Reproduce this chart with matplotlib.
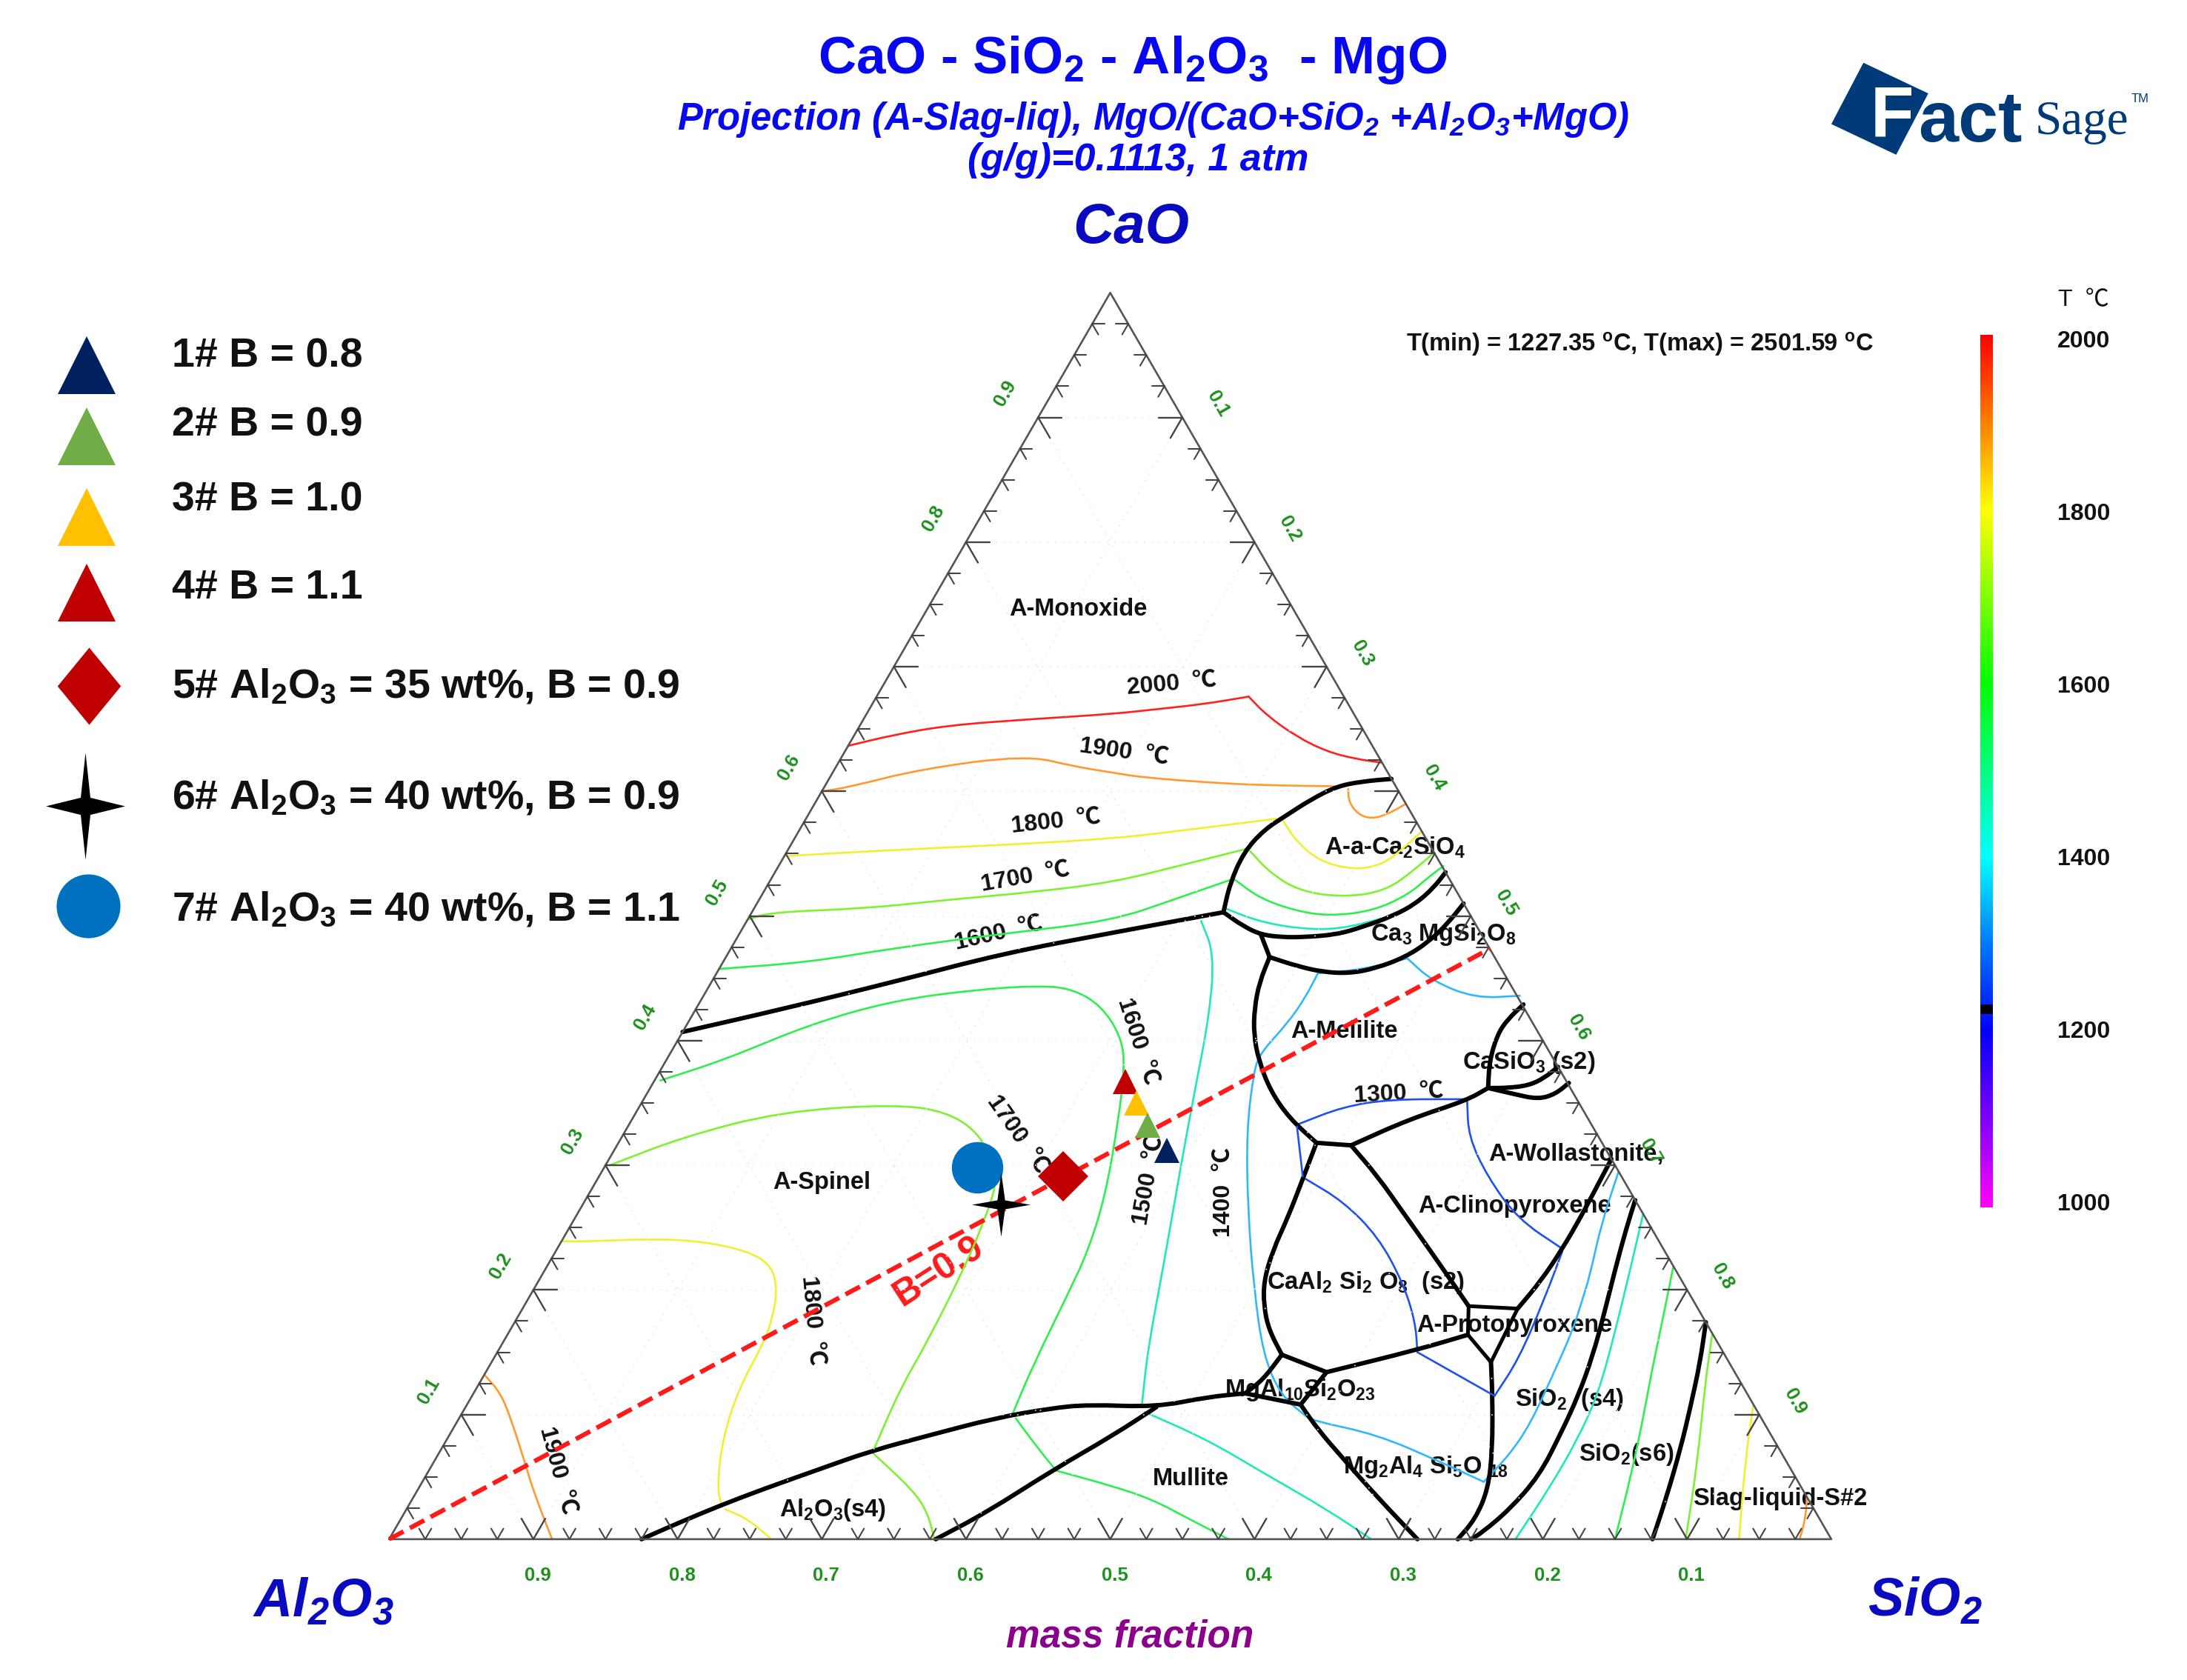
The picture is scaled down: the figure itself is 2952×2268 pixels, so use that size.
import numpy as np
import matplotlib
matplotlib.use('Agg')
import matplotlib.pyplot as plt
from matplotlib.colors import LinearSegmentedColormap
from matplotlib.path import Path
from matplotlib.patches import Polygon, PathPatch

# every curve is a list of (SiO2, CaO) mass fractions
bnd_monoxide = [(0.000,.407),(.059,.425),(.126,.447),(.191,.470),(.260,.487),(.327,.503)]
bnd_arc = [(.327,.503),(.320,.526),(.317,.551),(.322,.569),(.332,.581),(.342,.593),(.355,.604),(.371,.608),(.390,.610)]
bnd_ca2sio4 = [(.327,.503),(.346,.492),(.362,.485),(.378,.483),(.392,.483),(.414,.485),(.429,.491),(.446,.500),(.457,.510),(.463,.523),(.465,.535)]
bnd_short = [(.362,.485),(.377,.467)]
bnd_ca3 = [(.377,.467),(.399,.460),(.420,.455),(.439,.454),(.455,.458),(.471,.467),(.481,.479),(.487,.494),(.490,.510)]
bnd_melilite = [(.377,.467),(.380,.447),(.387,.426),(.397,.405),(.411,.384),(.431,.360),(.455,.338),(.484,.318)]
bnd_mel_low = [(.484,.318),(.509,.316)]
bnd_mel_right = [(.509,.316),(.539,.337),(.571,.352),(.581,.362)]
bnd_casio3_a = [(.581,.362),(.571,.384),(.566,.405),(.567,.417),(.572,.429)]
bnd_casio3_b = [(.581,.362),(.594,.362),(.608,.364),(.616,.370),(.621,.379)]
bnd_casio3_c = [(.581,.362),(.602,.357),(.620,.353),(.630,.357),(.635,.366)]
bnd_anorth_left = [(.484,.318),(.489,.289),(.494,.259),(.497,.231),(.503,.207),(.513,.187),(.526,.168),(.545,.148)]
bnd_anorth_low = [(.545,.148),(.583,.134)]
bnd_anorth_right = [(.583,.134),(.637,.152),(.666,.164)]
bnd_sapph = [(.545,.148),(.542,.128),(.535,.117)]
bnd_corundum = [(.175,0),(.194,.013),(.216,.027),(.239,.040),(.268,.055),(.299,.071),(.332,.083),(.371,.097),(.406,.105),(.431,.108),(.479,.106),(.510,.114),(.535,.117)]
bnd_corundum_end = [(.535,.117),(.578,.108)]
bnd_mullite = [(.379,0),(.403,.021),(.433,.056),(.460,.083),(.479,.106)]
bnd_j7 = [(.578,.108),(.583,.134)]
bnd_cordierite = [(.578,.108),(.600,.088),(.630,.064),(.668,.034),(.713,0)]
bnd_clino_left = [(.509,.316),(.540,.291),(.571,.263),(.609,.229),(.655,.187)]
bnd_clino_right = [(.690,.185),(.695,.207),(.697,.233),(.697,.259),(.696,.283),(.695,.305)]
bnd_cord_right = [(.693,.142),(.707,.116),(.729,.072),(.742,.040),(.745,.016),(.741,0)]
bnd_sio2_s4 = [(.728,.272),(.733,.250),(.742,.216),(.752,.181),(.761,.147),(.767,.115),(.770,.085),(.772,.051),(.765,.024),(.755,.005),(.750,0)]
bnd_sio2_s6 = [(.826,.174),(.838,.142),(.849,.107),(.859,.073),(.869,.033),(.876,0)]
bnd_proto = [(.655,.187),(.666,.164),(.693,.142),(.690,.185),(.655,.187)]

boundaries = [bnd_monoxide, bnd_arc, bnd_ca2sio4, bnd_short, bnd_ca3, bnd_melilite, bnd_mel_low, bnd_mel_right,
              bnd_casio3_a, bnd_casio3_b, bnd_casio3_c, bnd_anorth_left, bnd_anorth_low, bnd_anorth_right, bnd_sapph,
              bnd_corundum, bnd_corundum_end, bnd_mullite, bnd_j7, bnd_cordierite, bnd_clino_left,
              bnd_clino_right, bnd_cord_right, bnd_sio2_s4, bnd_sio2_s6]

t2000 = [[(0,.6365),(.026,.645),(.061,.653),(.117,.658),(.170,.662),(.200,.666),(.230,.670),(.258,.676)],
         [(.258,.676),(.278,.661),(.307,.644),(.334,.632),(.357,.626),(.377,.623)]]
t1900 = [[(0,.600),(.016,.603),(.060,.618),(.127,.629),(.165,.620),(.194,.615),(.218,.611),(.266,.607),(.301,.605),(.355,.604)],
         [(.364,.602),(.370,.591),(.382,.581),(.393,.578),(.402,.582),(.410,.590)],
         [(0,.132),(.019,.117),(.039,.093),(.063,.062),(.082,.037),(.113,0)],
         [(.967,.032),(.974,.016),(.978,0)]]
t1800 = [[(0,.548),(.073,.553),(.148,.557),(.220,.562),(.262,.568),(.326,.578)],
         [(.332,.576),(.349,.560),(.373,.544),(.400,.537),(.418,.541),(.426,.554),(.432,.568)],
         [(0,.239),(.021,.239),(.063,.241),(.097,.239),(.134,.231),(.156,.219),(.169,.200),(.177,.178),(.181,.157),(.182,.121),(.191,.080),(.207,.041),(.217,.027)],
         [(.221,.024),(.241,.016),(.265,0)],
         [(.892,.108),(.908,.065),(.936,0)]]
t1700 = [[(0,.497),(.013,.503),(.077,.506),(.131,.513),(.186,.519),(.238,.527),(.277,.540),(.318,.554)],
         [(.321,.552),(.343,.535),(.371,.520),(.404,.515),(.431,.520),(.443,.538),(.449,.551)],
         [(.003,.300),(.043,.323),(.100,.343),(.175,.349),(.216,.343),(.250,.323),(.271,.295),(.279,.284),(.285,.255),(.290,.218),(.294,.159),(.294,.121),(.300,.073)],
         [(.301,.069),(.344,.039),(.363,.021),(.378,0)],
         [(.835,.165),(.850,.125),(.877,.060),(.899,0)]]
t1600 = [[(0,.4575),(.060,.463),(.112,.474),(.184,.486),(.253,.496),(.289,.514),(.319,.529)],
         [(.322,.529),(.347,.514),(.377,.504),(.402,.500),(.430,.504),(.448,.517),(.455,.531),(.461,.540)],
         [(.004,.368),(.041,.385),(.085,.413),(.133,.432),(.187,.441),(.227,.444),(.252,.442),(.280,.428),(.307,.402),(.321,.378),(.338,.335),(.359,.275),(.369,.231),(.372,.200),(.377,.137),(.382,.101)],
         [(.386,.097),(.411,.075),(.435,.055)],
         [(.435,.055),(.479,.043),(.513,.032),(.547,.016),(.582,0)],
         [(.781,.219),(.795,.176),(.809,.132),(.821,.097),(.835,.053),(.850,0)]]
t1500 = [[(.327,.506),(.354,.496),(.384,.490),(.414,.489),(.445,.500)],
         [(.315,.496),(.337,.470),(.358,.422),(.379,.359),(.398,.303),(.426,.223),(.450,.152),(.468,.108)],
         [(.473,.102),(.527,.080),(.582,.052),(.638,.024),(.681,0)],
         [(.739,.261),(.751,.221),(.767,.166),(.780,.117),(.784,.080),(.784,.041),(.781,0)]]
t1400 = [[(.417,.454),(.418,.434),(.416,.414),(.409,.390),(.412,.375),(.431,.327),(.464,.263),(.498,.203),(.532,.148),(.560,.116),(.584,.100),(.593,.095),(.643,.084),(.698,.062),(.736,.046)],
         [(.736,.046),(.743,.068),(.745,.093),(.741,.132),(.737,.167),(.732,.189),(.727,.211),(.714,.253),(.705,.295)],
         [(.417,.454),(.446,.457),(.473,.466)],
         [(.473,.466),(.499,.448),(.536,.434),(.566,.436)]]
t1300 = [[(.464,.333),(.488,.347),(.518,.353),(.571,.353)],
         [(.464,.331),(.488,.291)],
         [(.491,.289),(.526,.271),(.564,.243),(.599,.207),(.624,.175),(.638,.150)],
         [(.638,.150),(.709,.115)],
         [(.709,.115),(.711,.144),(.705,.191),(.698,.231)],
         [(.572,.351),(.587,.323),(.616,.291),(.654,.257),(.697,.233)]]
contour_cols = ['#ff2020', '#ff9a30', '#f0f030', '#80f030', '#30ee50', '#20e8b8', '#30b8f8', '#2050f0']
contour_sets = [t2000, t1900, t1800, t1700, t1600, t1500, t1400, t1300]

cbar_temps = [1000, 1200, 1300, 1400, 1500, 1600, 1700, 1800, 1900, 2000]
cbar_cols = ['#ff00ff', '#0000ff', '#0078ff', '#00ffff', '#00ff80', '#00ff00', '#80ff00', '#ffff00', '#ff8000', '#ff0000']
cbar_ticks = [2000, 1800, 1600, 1400, 1200, 1000]
t_min = 1227.35

# samples on the diagram
tri_sio2 = [.327, .343, .360, .383]
tri_cao = [.367, .350, .332, .312]
tri_cols = ['#c00000', '#ffc000', '#70ad47', '#002060']
dia_sio2, dia_cao = .322, .291
star_sio2, star_cao = .290, .2685
circ_sio2, circ_cao = .259, .298
basicity = 0.9

legend_text = ['1# B = 0.8', '2# B = 0.9', '3# B = 1.0', '4# B = 1.1',
               '5# Al$_2$O$_3$ = 35 wt%, B = 0.9', '6# Al$_2$O$_3$ = 40 wt%, B = 0.9',
               '7# Al$_2$O$_3$ = 40 wt%, B = 1.1']
major = [.1, .2, .3, .4, .5, .6, .7, .8, .9]
left_labels = [.1, .2, .3, .4, .5, .6, .8, .9]
minor = [.025, .05, .075, .125, .15, .175, .225, .25, .275, .325, .35, .375, .425, .45, .475,
         .525, .55, .575, .625, .65, .675, .725, .75, .775, .825, .85, .875, .925, .95, .975]

plt.rcParams['font.family'] = ['Liberation Sans', 'Noto Sans CJK SC', 'DejaVu Sans']
plt.rcParams['mathtext.default'] = 'regular'

fig = plt.figure(figsize=(29.52, 22.68), dpi=100)
cmap = LinearSegmentedColormap.from_list('t', [((t - 1000) / 1000, c) for t, c in zip(cbar_temps, cbar_cols)])

# page axes in reference picture units, for the titles and labels
page = fig.add_axes([0, 0, 1, 1])
page.set_xlim(0, 1568)
page.set_ylim(1205, 0)
page.axis('off')

ax = fig.add_axes([279 / 1568, 1 - 1104 / 1205, 1034 / 1568, 894 / 1205])
ax.set_xlim(0, 1)
ax.set_ylim(0, 1)
ax.axis('off')
ax.patch.set_alpha(0)


def put(x, y, t, **kw):
    kw.setdefault('ha', 'center')
    page.text(x, y + 2, t, va='center', **kw)


def draw(curve, **kw):
    s, c = np.array(curve, dtype=float).T
    ax.plot(s + c / 2, c, solid_capstyle='round', solid_joinstyle='round', clip_on=False, **kw)


def draw_smooth(curve, color, lw):
    # rounds the digitised corners with quadratic pieces between segment midpoints
    s, c = np.array(curve, dtype=float).T
    p = np.column_stack([s + c / 2, c])
    if len(p) < 3:
        draw(curve, color=color, lw=lw)
        return
    mid = (p[:-1] + p[1:]) / 2
    verts = [p[0], mid[0]]
    codes = [Path.MOVETO, Path.LINETO]
    for i in range(1, len(p) - 1):
        verts += [p[i], mid[i]]
        codes += [Path.CURVE3, Path.CURVE3]
    verts.append(p[-1])
    codes.append(Path.LINETO)
    ax.add_patch(PathPatch(Path(verts, codes), fill=False, edgecolor=color, lw=lw, capstyle='round', joinstyle='round', clip_on=False))


# dotted grid
for f in major:
    for a, b in [((0, f), (1 - f, f)), ((f, 0), (f, 1 - f)), ((0, 1 - f), (1 - f, 0))]:
        s, c = np.array([a, b]).T
        ax.plot(s + c / 2, c, color='#e8e8e8', lw=1.2, ls=(0, (1, 5)))

for col, curves in zip(contour_cols, contour_sets):
    for cv in curves:
        draw_smooth(cv, col, 1.9)
for cv in boundaries:
    draw_smooth(cv, 'black', 4.3)
draw(bnd_proto, color='black', lw=3.6)

# frame and ticks
draw([(0, 0), (1, 0), (0, 1), (0, 0)], color='#555555', lw=1.9)
for ticks, ln, w in [(major, .0165, 1.7), (minor, .0085, 1.5)]:
    for f in ticks:
        for (s, c), (d1, d2) in [((f, 0), ((-ln, ln), (0, ln))),
                                 ((0, f), ((ln, 0), (ln, -ln))),
                                 ((1 - f, f), ((-ln, 0), (0, -ln)))]:
            for ds, dc in (d1, d2):
                draw([(s, c), (s + ds, c + dc)], color='#444444', lw=w)

# green scale labels
green = dict(color='#1e901e', fontsize=18.5, fontweight='bold', ha='center', va='center')
for f in major:
    ax.annotate(f'{1 - f:.1f}', (f + 0, 0), xytext=(6, -49), textcoords='offset pixels', **green)
    ax.annotate(f'{1 - f:.1f}', (1 - f / 2, f), xytext=(48, 18), textcoords='offset pixels', rotation=-60, **green)
for f in left_labels:
    ax.annotate(f'{f:.1f}', (f / 2, f), xytext=(-44, 32), textcoords='offset pixels', rotation=60, **green)

# B = 0.9 line
al = np.array([1.0, 0.0])
cao_b = basicity / (1 + basicity) * (1 - al)
sio2_b = 1 - al - cao_b
ax.plot(sio2_b + cao_b / 2, cao_b, color='#ff1a1a', lw=4.4, dashes=(3.6, 1.6), clip_on=False)

tri_x = [s + c / 2 for s, c in zip(tri_sio2, tri_cao)]
for x, c, col in zip(tri_x, tri_cao, tri_cols):
    ax.plot(x, c, '^', color=col, ms=24, mew=0)
star = Path([(0, 1), (.12, .14), (.92, 0), (.12, -.14), (0, -1), (-.12, -.14), (-.92, 0), (-.12, .14), (0, 1)], closed=True)
ax.plot(circ_sio2 + circ_cao / 2, circ_cao, 'o', color='#0070c0', ms=50, mew=0)
ax.plot(star_sio2 + star_cao / 2, star_cao, marker=star, color='black', ms=62, mew=0)
ax.plot(dia_sio2 + dia_cao / 2, dia_cao, 'D', color='#c00000', ms=35, mew=0)

# legend
leg_y_mark = [262, 313, 371, 425, 492, 578, 650]
leg_y_text = [254, 303, 357, 420, 491, 571, 651]
for y, col in zip(leg_y_mark[:4], ['#002060', '#70ad47', '#ffc000', '#c00000']):
    page.plot(62, y, '^', color=col, ms=56, mew=0)
page.plot(64, leg_y_mark[4], marker=Path([(0, 1), (.82, 0), (0, -1), (-.82, 0), (0, 1)], closed=True),
          color='#c00000', ms=75, mew=0)
page.plot(61, leg_y_mark[5], marker=Path([(0, 1), (.09, .16), (.74, 0), (.09, -.16), (0, -1), (-.09, -.16), (-.74, 0), (-.09, .16), (0, 1)], closed=True),
          color='black', ms=104, mew=0)
page.plot(63, leg_y_mark[6], 'o', color='#0070c0', ms=62, mew=0)
for y, t in zip(leg_y_text, legend_text):
    put(123, y, t, fontsize=40, fontweight='bold', color='#111111', ha='left')

# titles
blue = '#0808f0'
put(812, 41, 'CaO - SiO$_2$ - Al$_2$O$_3$  - MgO', color=blue, fontsize=51, fontweight='bold')
put(827, 84, 'Projection (A-Slag-liq), MgO/(CaO+SiO$_2$ +Al$_2$O$_3$+MgO)', color=blue, fontsize=36.5,
    fontweight='bold', fontstyle='italic')
put(816, 113, '(g/g)=0.1113, 1 atm', color=blue, fontsize=37.5, fontweight='bold', fontstyle='italic')
corner = '#0a0ac0'
put(811, 162, 'CaO', color=corner, fontsize=55, fontweight='bold', fontstyle='italic')
put(232, 1147, 'Al$_2$O$_3$', color=corner, fontsize=52, fontweight='bold', fontstyle='italic')
put(1380, 1147, 'SiO$_2$', color=corner, fontsize=52, fontweight='bold', fontstyle='italic')
put(810, 1172, 'mass fraction', color='#8b008b', fontsize=37, fontweight='bold', fontstyle='italic')
put(1008, 245, 'T(min) = 1227.35 $^{o}$C, T(max) = 2501.59 $^{o}$C', color='#111111', fontsize=23.5, fontweight='bold', ha='left')
put(673, 910, 'B=0.9', color='#ff1a1a', fontsize=36, fontweight='bold', rotation=33)

# isotherm labels
temp_labels = [('2000  ℃', 840, 489, 5), ('1900  ℃', 806, 538, -8), ('1800  ℃', 757, 588, 6),
               ('1700  ℃', 735, 628, 10), ('1600  ℃', 716, 668, 13), ('1600  ℃', 815, 745, -72),
               ('1700  ℃', 729, 812, -55), ('1500  ℃', 824, 845, 80), ('1400  ℃', 878, 853, 90),
               ('1300  ℃', 1003, 783, 3), ('1800  ℃', 582, 945, -85), ('1900  ℃', 399, 1053, -75)]
for t, x, y, r in temp_labels:
    put(x, y, t, fontsize=23, fontweight='bold', color='#111111', rotation=r)

# phase labels
phase_labels = [('A-Monoxide', 773, 435), ('A-a-Ca$_2$SiO$_4$', 1000, 606), ('Ca$_3$ MgSi$_2$O$_8$', 1035, 668),
                ('A-Melilite', 964, 738), ('CaSiO$_3$ (s2)', 1096, 760), ('A-Wollastonite,', 1130, 826),
                ('A-Clinopyroxene', 1086, 863), ('CaAl$_2$ Si$_2$ O$_8$  (s2)', 979, 918), ('A-Protopyroxene', 1086, 949),
                ('MgAl$_{10}$Si$_2$O$_{23}$', 932, 995), ('SiO$_2$  (s4)', 1125, 1002), ('Mg$_2$Al$_4$ Si$_5$O $_{18}$', 1022, 1050),
                ('SiO$_2$(s6)', 1166, 1041), ('Slag-liquid-S#2', 1276, 1073), ('Mullite', 854, 1059),
                ('Al$_2$O$_3$(s4)', 597, 1081), ('A-Spinel', 589, 846)]
for t, x, y in phase_labels:
    put(x, y, t, fontsize=23.5, fontweight='bold', color='#111111')

# colour bar
cb = fig.add_axes([1420 / 1568, 1 - 866 / 1205, 9 / 1568, 626 / 1205])
cb.imshow(np.linspace(1, 0, 256).reshape(-1, 1), cmap=cmap, aspect='auto', extent=(0, 1, 1000, 2000), vmin=0, vmax=1)
cb.plot([0, 1], [t_min, t_min], color='black', lw=9, solid_capstyle='butt')
cb.set_ylim(1000, 2000)
cb.axis('off')
for t in cbar_ticks:
    put(1494, 862 - (t - 1000) * .619, str(t), fontsize=23, fontweight='bold', color='#111111')
put(1494, 213, 'T  ℃', fontsize=23, color='#111111')

# logo
logo_blue = '#003a78'
page.add_patch(Polygon([(1336, 45), (1382.5, 67), (1359.5, 111), (1313, 89)], closed=True, color=logo_blue, lw=0))
put(1341, 82, 'F', fontsize=69, fontweight='bold', color='white', ha='left')
put(1375, 86, 'act', fontsize=70, fontweight='bold', color=logo_blue, ha='left')
put(1459, 86, 'Sage', fontsize=47, family=['Liberation Serif'], color=logo_blue, ha='left')
put(1528, 69, 'TM', fontsize=12, color=logo_blue, ha='left')

fig.savefig('out.png', dpi=100)
